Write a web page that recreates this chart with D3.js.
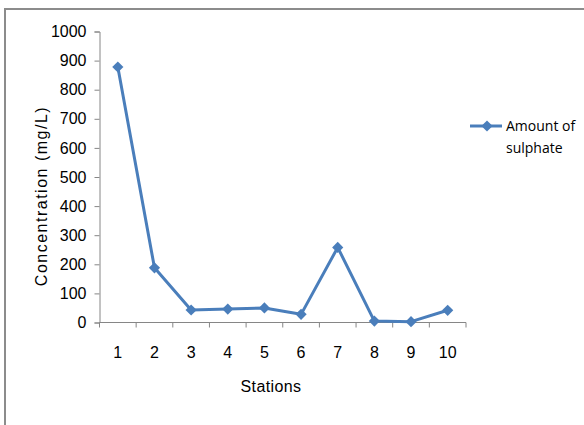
<!DOCTYPE html>
<html>
<head>
<meta charset="utf-8">
<script src="https://cdn.jsdelivr.net/npm/d3@7/dist/d3.min.js"></script>
<style>
  html, body { margin: 0; padding: 0; background: #fff; }
  svg { display: block; }
</style>
</head>
<body>
<svg id="chart" width="584" height="425"></svg>
<script>
// Sulphate concentration at each sampling station
const stations = ["1", "2", "3", "4", "5", "6", "7", "8", "9", "10"];
const sulphate = [878, 188, 43, 46, 50, 28, 258, 5, 3, 42];
const yTicks = [0, 100, 200, 300, 400, 500, 600, 700, 800, 900, 1000];
const seriesName = ["Amount of", "sulphate"];

const svg = d3.select("#chart");
const lineColor = "#4a7ebb";
const axisColor = "#868686";
const font = "'Liberation Sans', Arial, sans-serif";

// Outer chart frame (top and left edges visible)
svg.append("line").attr("x1", 5).attr("x2", 584).attr("y1", 9).attr("y2", 9)
  .attr("stroke", "#8c8c8c").attr("stroke-width", 2);
svg.append("line").attr("x1", 5).attr("x2", 5).attr("y1", 8).attr("y2", 425)
  .attr("stroke", "#8c8c8c").attr("stroke-width", 2);

const plot = { left: 99.5, right: 466, top: 31.5, bottom: 322.5 };

const x = d3.scaleBand().domain(stations).range([plot.left, plot.right]);
const y = d3.scaleLinear().domain([0, 1000]).range([plot.bottom, plot.top]);

// Y axis
const yAxis = svg.append("g")
  .attr("transform", `translate(${plot.left},0)`)
  .call(d3.axisLeft(y).tickValues(yTicks).tickSize(5).tickPadding(8).tickFormat(d3.format("d")));
yAxis.attr("font-size", 16).attr("font-family", font);
yAxis.select(".domain").attr("stroke", axisColor);
yAxis.selectAll(".tick line").attr("stroke", axisColor);
yAxis.selectAll(".tick text")
  .attr("fill", "#000")
  .attr("font-size", 16)
  .attr("font-family", font);

// X axis with tick marks between categories
const xAxis = svg.append("g")
  .attr("transform", `translate(0,${plot.bottom})`);
xAxis.append("line")
  .attr("x1", plot.left).attr("x2", plot.right)
  .attr("stroke", axisColor);
const boundaries = stations.map(s => x(s)).concat([x(stations[stations.length - 1]) + x.bandwidth()]);
xAxis.selectAll(".xtick").data(boundaries).enter().append("line")
  .attr("x1", d => d).attr("x2", d => d)
  .attr("y1", 0).attr("y2", 5)
  .attr("stroke", axisColor);
xAxis.selectAll(".xlabel").data(stations).enter().append("text")
  .attr("x", d => x(d) + x.bandwidth() / 2)
  .attr("y", 35.5)
  .attr("text-anchor", "middle")
  .attr("font-family", font).attr("font-size", 16)
  .text(d => d);

// Axis titles
svg.append("text")
  .attr("x", 271).attr("y", 391.5)
  .attr("text-anchor", "middle")
  .attr("font-family", font).attr("font-size", 16)
  .attr("letter-spacing", 0.4)
  .text("Stations");
svg.append("text")
  .attr("transform", "translate(47,196) rotate(-90)")
  .attr("text-anchor", "middle")
  .attr("font-family", font).attr("font-size", 16)
  .attr("letter-spacing", 1.5)
  .text("Concentration (mg/L)");

// Series line
const cx = (d, i) => x(stations[i]) + x.bandwidth() / 2;
const line = d3.line().x(cx).y(d => y(d));
svg.append("path")
  .datum(sulphate)
  .attr("d", line)
  .attr("fill", "none")
  .attr("stroke", lineColor)
  .attr("stroke-width", 3)
  .attr("stroke-linejoin", "round");

const diamond = d3.symbol().type(d3.symbolDiamond2).size(80);
svg.selectAll(".marker").data(sulphate).enter().append("path")
  .attr("d", diamond)
  .attr("transform", (d, i) => `translate(${cx(d, i)},${y(d)})`)
  .attr("fill", lineColor);

// Legend
const legend = svg.append("g").attr("transform", "translate(470,126)");
legend.append("line").attr("x1", 0).attr("x2", 32).attr("y1", 0).attr("y2", 0)
  .attr("stroke", lineColor).attr("stroke-width", 3);
legend.append("path").attr("d", diamond).attr("transform", "translate(17,0)")
  .attr("fill", lineColor);
legend.selectAll("text").data(seriesName).enter().append("text")
  .attr("x", 36).attr("y", (d, i) => 4.5 + i * 22)
  .attr("font-family", "'Open Sans', 'Noto Sans', sans-serif").attr("font-size", 14)
  .text(d => d);
</script>
</body>
</html>
